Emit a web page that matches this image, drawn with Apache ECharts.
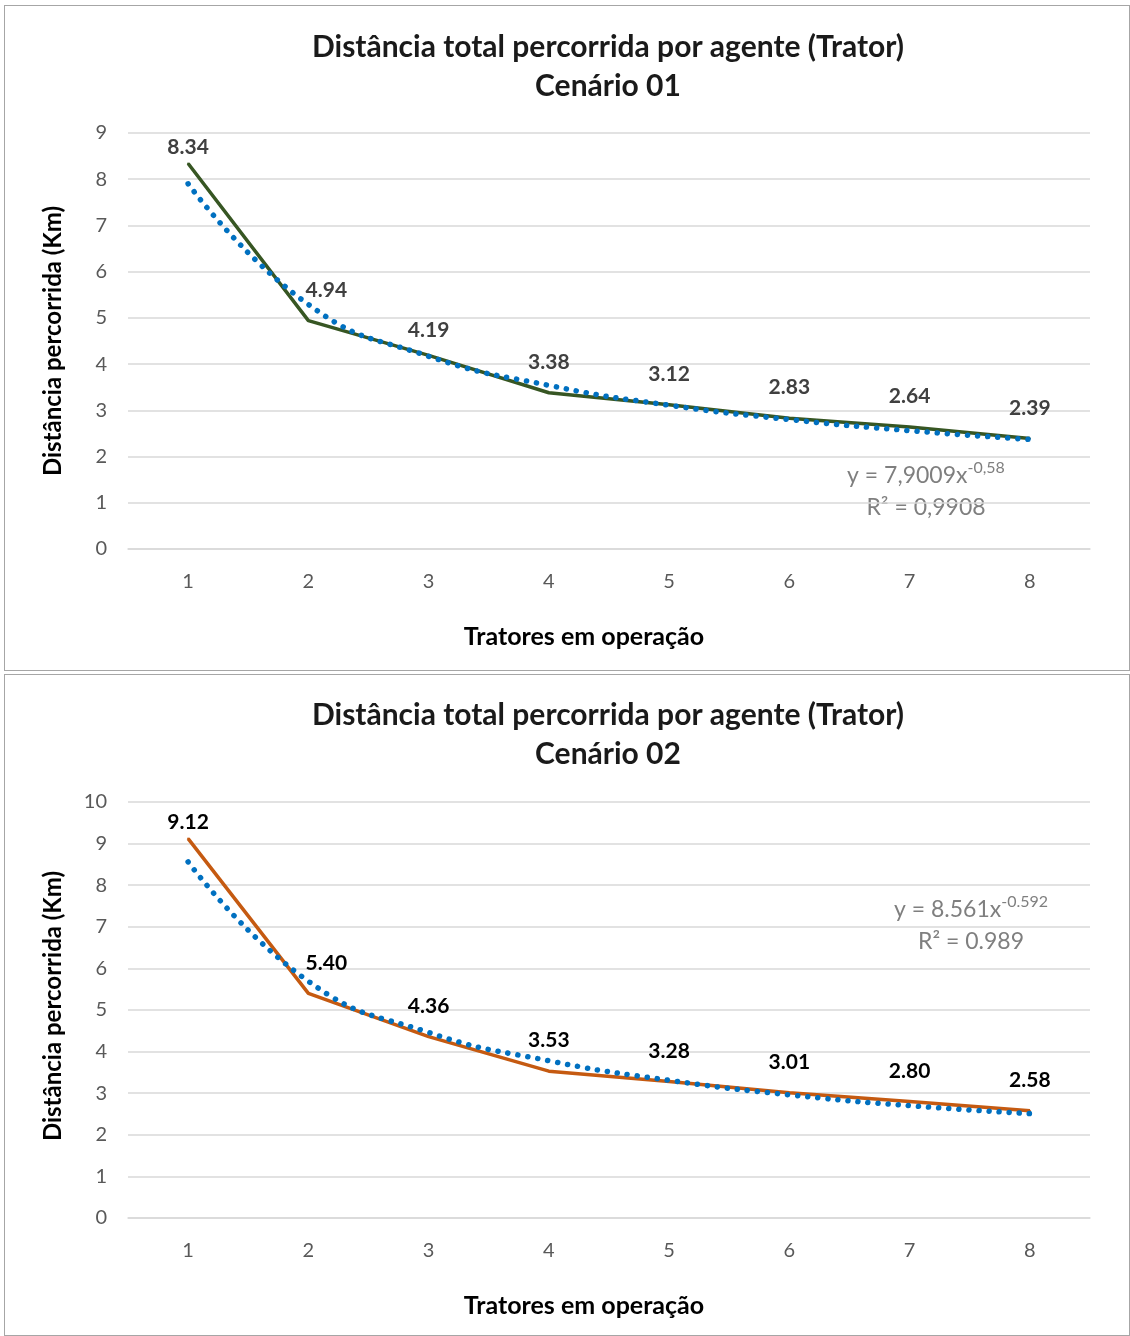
<!DOCTYPE html>
<html>
<head>
<meta charset="utf-8">
<script src="https://cdn.jsdelivr.net/npm/echarts@6/dist/echarts.min.js"></script>
<style>
  body { margin: 0; background: #fff; }
  .chartBox { position: absolute; left: 4px; width: 1126px; border: 1px solid #a6a6a6; box-sizing: border-box; }
  #chart1 { top: 5px; height: 666px; }
  #chart2 { top: 674px; height: 662px; }
</style>
</head>
<body>
<div class="chartBox" id="chart1"></div>
<div class="chartBox" id="chart2"></div>
<script>
const tratores = ['1', '2', '3', '4', '5', '6', '7', '8'];
// Cenário 01
const distancia1 = [8.34, 4.94, 4.19, 3.38, 3.12, 2.83, 2.64, 2.39];
const tendencia1 = [7.90, 5.29, 4.17, 3.54, 3.11, 2.80, 2.56, 2.37];
// Cenário 02
const distancia2 = [9.12, 5.40, 4.36, 3.53, 3.28, 3.01, 2.80, 2.58];
const tendencia2 = [8.56, 5.69, 4.46, 3.78, 3.31, 2.96, 2.70, 2.51];

const FONT = 'Lato, "Open Sans", sans-serif';

function makeChart(domId, cfg) {
  const myEChart = echarts.init(document.getElementById(domId));
  const option = {
    animation: false,
    textStyle: { fontFamily: FONT },
    grid: {
      left: 123,
      right: 39,
      top: cfg.gridTop,
      bottom: cfg.gridBottom
    },
    xAxis: {
      type: 'category',
      data: tratores,
      boundaryGap: true,
      axisLine: { lineStyle: { color: '#d9d9d9', width: 1.5 } },
      axisTick: { show: false },
      axisLabel: { color: '#595959', fontSize: 20, margin: 23, fontFamily: FONT }
    },
    yAxis: {
      type: 'value',
      min: 0,
      max: cfg.yMax,
      interval: 1,
      axisLine: { show: false },
      axisTick: { show: false },
      axisLabel: { color: '#595959', fontSize: 20, margin: 21, fontFamily: FONT },
      splitLine: { lineStyle: { color: '#d9d9d9', width: 1.5 } }
    },
    graphic: [
      {
        type: 'text', x: 603, y: cfg.titleY,
        style: {
          text: 'Distância total percorrida por agente (Trator)\n' + cfg.cenario,
          textAlign: 'center', textVerticalAlign: 'top',
          font: 'bold 30px ' + FONT, fill: '#1a1a1a', lineHeight: 39
        }
      },
      {
        type: 'text', x: 48, y: cfg.yNameY, rotation: Math.PI / 2,
        style: {
          text: 'Distância percorrida (Km)',
          textAlign: 'center', textVerticalAlign: 'middle',
          font: 'bold 24px ' + FONT, fill: '#000'
        }
      },
      {
        type: 'text', x: 579, y: cfg.xNameY,
        style: {
          text: 'Tratores em operação',
          textAlign: 'center', textVerticalAlign: 'middle',
          font: 'bold 25px ' + FONT, fill: '#000'
        }
      },
      {
        type: 'text', x: cfg.eqX, y: cfg.eqY,
        style: {
          text: '{n|' + cfg.eqA + '}{s|' + cfg.eqB + '}\n{n|R² = ' + cfg.r2 + '}',
          textAlign: 'center', textVerticalAlign: 'top',
          rich: {
            n: { fontSize: 23, fill: '#7f7f7f', fontFamily: FONT, lineHeight: 32 },
            s: { fontSize: 16, fill: '#7f7f7f', fontFamily: FONT, verticalAlign: 'top', lineHeight: 32, padding: [0, 0, 14, 0] }
          }
        }
      }
    ],
    series: [
      {
        name: 'Distância',
        type: 'line',
        data: cfg.values.map((v, i) => ({
          value: v,
          label: { offset: cfg.labelOffsets[i] }
        })),
        symbol: 'circle',
        symbolSize: 2,
        itemStyle: { color: cfg.color },
        lineStyle: { color: cfg.color, width: 3.5 },
        label: {
          show: true,
          position: 'top',
          distance: 5,
          fontSize: 21,
          fontWeight: 'bold',
          fontFamily: FONT,
          color: cfg.labelColor,
          formatter: p => Number(p.value).toFixed(2)
        },
        z: 2
      },
      {
        name: 'Tendência',
        type: 'line',
        data: cfg.trend,
        smooth: 0.5,
        symbol: 'none',
        lineStyle: { color: '#0070c0', width: 5.5, type: [0.1, 10], cap: 'round' },
        z: 3
      }
    ]
  };
  myEChart.setOption(option);
}

makeChart('chart1', {
  gridTop: 127, gridBottom: 121, yMax: 9,
  titleY: 22, yNameY: 335, xNameY: 631,
  cenario: 'Cenário 01',
  values: distancia1, trend: tendencia1,
  color: '#375623', labelColor: '#404040',
  labelOffsets: [[0, 0], [18, -14], [0, -9], [0, -14], [0, -14], [0, -14], [0, -14], [0, -14]],
  eqX: 921, eqY: 454, eqA: 'y = 7,9009x', eqB: '-0,58', r2: '0,9908'
});

makeChart('chart2', {
  gridTop: 127, gridBottom: 117, yMax: 10,
  titleY: 21, yNameY: 331, xNameY: 631,
  cenario: 'Cenário 02',
  values: distancia2, trend: tendencia2,
  color: '#c55a11', labelColor: '#000000',
  labelOffsets: [[0, 0], [18, -14], [0, -14], [0, -14], [0, -14], [0, -14], [0, -14], [0, -14]],
  eqX: 966, eqY: 219, eqA: 'y = 8.561x', eqB: '-0.592', r2: '0.989'
});
</script>
</body>
</html>
